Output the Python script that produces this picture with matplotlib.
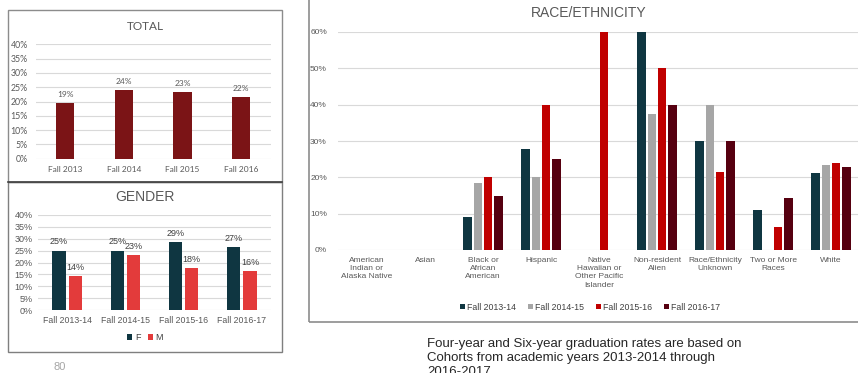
import numpy as np
import matplotlib
matplotlib.use("Agg")
import matplotlib.pyplot as plt
from matplotlib.patches import Rectangle
from matplotlib.lines import Line2D

# ---- data ----
total_years = ["Fall 2013", "Fall 2014", "Fall 2015", "Fall 2016"]
total_rate = [0.194, 0.240, 0.232, 0.215]
total_labels = ["19%", "24%", "23%", "22%"]

gender_years = ["Fall 2013-14", "Fall 2014-15", "Fall 2015-16", "Fall 2016-17"]
gender_f = [0.250, 0.250, 0.286, 0.264]
gender_m = [0.144, 0.230, 0.177, 0.164]
gender_f_labels = ["25%", "25%", "29%", "27%"]
gender_m_labels = ["14%", "23%", "18%", "16%"]

race_cats = ["American\nIndian or\nAlaska Native", "Asian", "Black or\nAfrican\nAmerican",
             "Hispanic", "Native\nHawaiian or\nOther Pacific\nIslander", "Non-resident\nAlien",
             "Race/Ethnicity\nUnknown", "Two or More\nRaces", "White"]
race_series = ["Fall 2013-14", "Fall 2014-15", "Fall 2015-16", "Fall 2016-17"]
race_1314 = [0, 0, 0.092, 0.277, 0, 0.600, 0.300, 0.110, 0.212]
race_1415 = [0, 0, 0.185, 0.200, 0, 0.375, 0.400, 0, 0.234]
race_1516 = [0, 0, 0.200, 0.400, 0.600, 0.500, 0.214, 0.062, 0.239]
race_1617 = [0, 0, 0.149, 0.250, 0, 0.400, 0.300, 0.143, 0.228]
race_colors = ["#0F3641", "#A6A6A6", "#C00000", "#560010"]

W, H = 858, 373
fig = plt.figure(figsize=(W / 100, H / 100), dpi=100)
fig.patch.set_facecolor("white")


def box(l, t, r, b):
    return [l / W, 1 - b / H, (r - l) / W, (b - t) / H]


def style(ax, fam, fs):
    for s in ax.spines.values():
        s.set_visible(False)
    ax.yaxis.grid(True, color="#D9D9D9", lw=0.8)
    ax.set_axisbelow(True)
    ax.tick_params(length=0, labelsize=fs, colors="#595959")
    for lab in ax.get_xticklabels() + ax.get_yticklabels():
        lab.set_family(fam)


def pct(vals):
    return ["%d%%" % round(v * 100) for v in vals]


# panel borders
fig.add_artist(Rectangle((8 / W, 1 - 182 / H), 274 / W, 172 / H, transform=fig.transFigure,
                         fill=False, ec="#8C8C8C", lw=1))
fig.add_artist(Rectangle((8 / W, 1 - 352 / H), 274 / W, 170 / H, transform=fig.transFigure,
                         fill=False, ec="#7F7F7F", lw=1))
fig.add_artist(Line2D([8 / W, 282 / W], [1 - 182 / H] * 2, transform=fig.transFigure,
                      color="#404040", lw=1.2))
fig.add_artist(Rectangle((309 / W, 1 - 322 / H), 560 / W, 340 / H, transform=fig.transFigure,
                         fill=False, ec="#8C8C8C", lw=1.2))

# ---- TOTAL ----
ax1 = fig.add_axes(box(36, 44.3, 270.5, 158.7))
x = np.arange(len(total_years))
bars = ax1.bar(x, total_rate, width=0.31, color="#7B1416")
ax1.set_xlim(-0.5, 3.5)
ax1.set_ylim(0, 0.40)
ax1.set_yticks(np.arange(0, 0.401, 0.05))
ax1.set_yticklabels(pct(np.arange(0, 0.401, 0.05)))
ax1.set_xticks(x)
ax1.set_xticklabels(total_years)
style(ax1, "Lato", 6)
ax1.tick_params(axis="y", pad=6, labelsize=6.3)
ax1.tick_params(axis="x", pad=5)
for b, lab in zip(bars, total_labels):
    ax1.annotate(lab, (b.get_x() + b.get_width() / 2, b.get_height()), xytext=(0, 4),
                 textcoords="offset points", ha="center", va="bottom", fontsize=6,
                 family="Lato", color="#595959")
fig.text(145 / W, 1 - 26 / H, "TOTAL", ha="center", va="center", fontsize=8.5,
         family="Lato", color="#595959")

# ---- GENDER ----
ax2 = fig.add_axes(box(38, 215, 271, 310))
x = np.arange(len(gender_years))
bf = ax2.bar(x - 0.14, gender_f, width=0.225, color="#0F3641", label="F")
bm = ax2.bar(x + 0.14, gender_m, width=0.225, color="#E33B3B", label="M")
ax2.set_xlim(-0.5, 3.5)
ax2.set_ylim(0, 0.40)
ax2.set_yticks(np.arange(0, 0.401, 0.05))
ax2.set_yticklabels(pct(np.arange(0, 0.401, 0.05)))
ax2.set_xticks(x)
ax2.set_xticklabels(gender_years)
style(ax2, "Liberation Sans", 6.3)
ax2.tick_params(axis="y", pad=4, labelsize=6.5)
ax2.tick_params(axis="x", pad=4)
for bs, labs in ((bf, gender_f_labels), (bm, gender_m_labels)):
    for b, lab in zip(bs, labs):
        ax2.annotate(lab, (b.get_x() + b.get_width() / 2, b.get_height()), xytext=(0, 3),
                     textcoords="offset points", ha="center", va="bottom", fontsize=6.5,
                     family="Liberation Sans", color="#404040")
fig.text(145 / W, 1 - 197 / H, "GENDER", ha="center", va="center", fontsize=10,
         family="Liberation Sans", color="#595959")
fig.legend(handles=[bf, bm], loc="center", bbox_to_anchor=(145 / W, 1 - 338 / H),
           ncol=2, frameon=False, handlelength=0.6, handleheight=0.6, handletextpad=0.3,
           columnspacing=0.8, prop={"family": "Liberation Sans", "size": 6.5},
           labelcolor="#404040")

# ---- RACE/ETHNICITY ----
ax3 = fig.add_axes(box(338, 32, 860, 250))
x = np.arange(len(race_cats))
offsets = [-0.27, -0.09, 0.09, 0.27]
handles = []
for vals, off, col, name in zip([race_1314, race_1415, race_1516, race_1617], offsets,
                                race_colors, race_series):
    handles.append(ax3.bar(x + off, vals, width=0.145, color=col, label=name))
ax3.set_xlim(-0.5, len(race_cats) - 0.5)
ax3.set_ylim(0, 0.60)
ax3.set_yticks(np.arange(0, 0.601, 0.10))
ax3.set_yticklabels(pct(np.arange(0, 0.601, 0.10)))
ax3.set_xticks(x)
ax3.set_xticklabels(race_cats, linespacing=1.25)
style(ax3, "Liberation Sans", 6)
ax3.tick_params(axis="y", pad=8)
ax3.tick_params(axis="x", pad=5)
fig.text(589 / W, 1 - 13 / H, "RACE/ETHNICITY", ha="center", va="center", fontsize=10,
         family="Liberation Sans", color="#595959")
fig.legend(handles=handles, loc="center", bbox_to_anchor=(590 / W, 1 - 307 / H),
           ncol=4, frameon=False, handlelength=0.6, handleheight=0.6, handletextpad=0.25,
           columnspacing=1.3, prop={"family": "Liberation Sans", "size": 6.3},
           labelcolor="#404040")

# ---- notes ----
fig.text(427 / W, 1 - 338 / H,
         "Four-year and Six-year graduation rates are based on\n"
         "Cohorts from academic years 2013-2014 through\n2016-2017",
         ha="left", va="top", fontsize=9.5, family="Liberation Sans", color="#262626",
         linespacing=1.22)
fig.text(60 / W, 1 - 367 / H, "80", ha="center", va="center", fontsize=8,
         family="Liberation Sans", color="#A6A6A6")

fig.savefig("out.png", dpi=100)
